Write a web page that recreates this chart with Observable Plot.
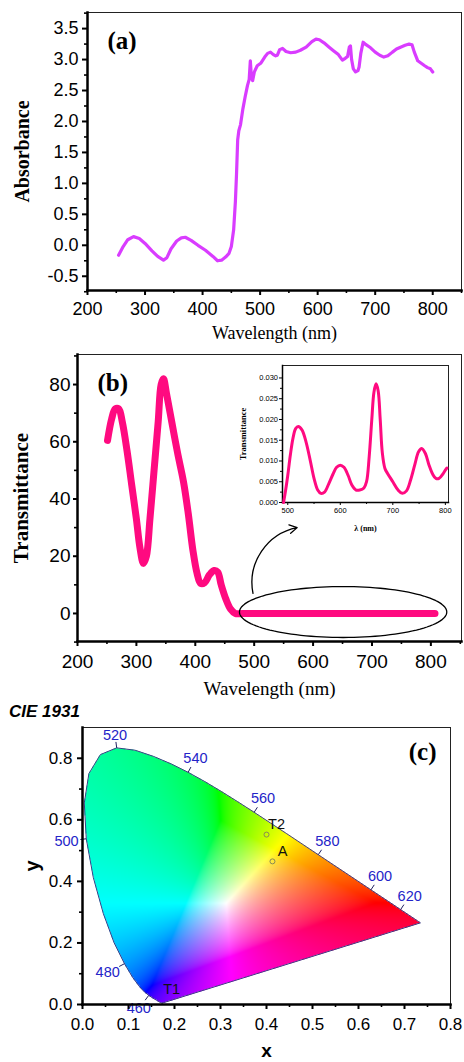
<!DOCTYPE html>
<html><head><meta charset="utf-8">
<script src="https://cdn.jsdelivr.net/npm/d3@7"></script>
<script src="https://cdn.jsdelivr.net/npm/@observablehq/plot@0.6"></script>
<style>
body{margin:0;background:#fff;}
#wrap{position:relative;width:464px;height:1062px;overflow:hidden;background:#fff;}
#wrap svg{position:absolute;overflow:visible;background:transparent;}
.cie{position:absolute;left:9px;top:702px;font:italic bold 17px "Liberation Sans",Arial,sans-serif;color:#000;}
</style></head><body><div id="wrap"><div class="cie">CIE 1931</div></div>
<script>
// ---------- Panel (a): absorbance ----------
const absWl = [254,262,270,280,290,300,312,322,332,338,345,355,363,370,380,392,405,418,426,433,440,446,450,454,457,459,461,463,466,470,474,478,481,483,485,487,490,495,501,508,513,518,523,527,530,534,539,545,553,562,570,580,590,597,603,611,620,628,636,643,648,652,655,657,659,662,666,670,672,675,679,684,692,700,708,715,722,730,737,744,752,759,764,768,774,780,786,791,796,800];
const absVal = [-0.16,-0.02,0.09,0.14,0.11,0.03,-0.09,-0.18,-0.24,-0.2,-0.06,0.07,0.12,0.13,0.08,0.0,-0.08,-0.18,-0.25,-0.24,-0.19,-0.13,-0.02,0.25,0.7,1.15,1.7,1.85,1.95,2.2,2.4,2.58,2.68,2.98,2.7,2.66,2.8,2.9,2.94,3.04,3.1,3.12,3.08,3.06,3.07,3.16,3.18,3.13,3.11,3.12,3.15,3.2,3.29,3.33,3.32,3.27,3.2,3.14,3.08,2.99,3.02,3.05,3.2,3.22,3.0,2.85,2.8,2.82,2.88,3.1,3.28,3.24,3.19,3.12,3.07,3.04,3.06,3.12,3.17,3.2,3.23,3.25,3.24,3.12,2.98,2.94,2.9,2.87,2.85,2.8];
const absYTicks = [-0.5,0,0.5,1,1.5,2,2.5,3,3.5];
const absYMinor = [-0.75,-0.25,0.25,0.75,1.25,1.75,2.25,2.75,3.25,3.75];
const wlTicks = [200,300,400,500,600,700,800];
const wlMinor = [250,350,450,550,650,750,850];

// ---------- Panel (b): transmittance ----------
const trWl = [251,258,264,270,276,284,292,300,306,312,317,323,330,337,342,346,351,360,370,380,388,396,403,409,416,424,432,438,444,452,460,468,480,600,700,807];
const trVal = [60.5,68,71.5,71.5,67,57,45,33,23,17.5,20,33,50,67,80,82,77,67,56,46,35,22,14,10.5,10.8,13.5,15,14.5,10,5,1.5,0,0,0,0,0];
const trYTicks = [0,20,40,60,80];
const trYMinor = [-10,10,30,50,70,90];

// inset
const inWl = [492,496,500,505,510,515,520,527,535,543,550,557,563,570,578,586,593,600,607,615,622,630,637,645,650,655,660,664,668,672,676,680,685,690,700,710,718,726,734,742,749,755,762,769,776,782,788,795,800,803];
const inVal = [0,0.003,0.0065,0.0115,0.0155,0.0178,0.0183,0.0175,0.0145,0.01,0.0058,0.003,0.0022,0.0025,0.0045,0.0068,0.0085,0.009,0.0085,0.0065,0.0042,0.003,0.003,0.0035,0.005,0.011,0.02,0.0265,0.0286,0.027,0.02,0.012,0.0082,0.007,0.005,0.003,0.0022,0.0028,0.0055,0.0092,0.0122,0.013,0.0118,0.009,0.0068,0.0058,0.0058,0.0068,0.0078,0.0083];
const inYTicks = [0,0.005,0.01,0.015,0.02,0.025,0.03];
const inYMinor = [0.0025,0.0075,0.0125,0.0175,0.0225,0.0275];
const inXTicks = [500,600,700,800];
const inXMinor = [550,650,750];

// annotations for (b)
const ellipseSpec = {cx: 651, cy: 0.5, rx: 176, ry: 8.9};
const arrowSpec = [{x1: 498, y1: 7, x2: 573, y2: 30}];

// ---------- Panel (c): CIE 1931 ----------
const cieWl = [380,385,390,395,400,405,410,415,420,425,430,435,440,445,450,455,460,465,470,475,480,485,490,495,500,505,510,515,520,525,530,535,540,545,550,555,560,565,570,575,580,585,590,595,600,605,610,615,620,625,630,635,640,645,650,655,660,665,670,675,680,685,690,695,700];
const cieX = [0.1741,0.1740,0.1738,0.1736,0.1733,0.1730,0.1726,0.1721,0.1714,0.1703,0.1689,0.1669,0.1644,0.1611,0.1566,0.1510,0.1440,0.1355,0.1241,0.1096,0.0913,0.0687,0.0454,0.0235,0.0082,0.0039,0.0139,0.0389,0.0743,0.1142,0.1547,0.1929,0.2296,0.2658,0.3016,0.3373,0.3731,0.4087,0.4441,0.4788,0.5125,0.5448,0.5752,0.6029,0.6270,0.6482,0.6658,0.6801,0.6915,0.7006,0.7079,0.7140,0.7190,0.7230,0.7260,0.7283,0.7300,0.7311,0.7320,0.7327,0.7334,0.7340,0.7344,0.7346,0.7347];
const cieY = [0.0050,0.0050,0.0049,0.0049,0.0048,0.0048,0.0048,0.0048,0.0051,0.0058,0.0069,0.0086,0.0109,0.0138,0.0177,0.0227,0.0297,0.0399,0.0578,0.0868,0.1327,0.2007,0.2950,0.4127,0.5384,0.6548,0.7502,0.8120,0.8338,0.8262,0.8059,0.7816,0.7543,0.7243,0.6923,0.6589,0.6245,0.5896,0.5547,0.5202,0.4866,0.4544,0.4242,0.3965,0.3725,0.3514,0.3340,0.3197,0.3083,0.2993,0.2920,0.2859,0.2809,0.2770,0.2740,0.2717,0.2700,0.2689,0.2680,0.2673,0.2666,0.2660,0.2656,0.2654,0.2653];
const cieLabelWl = [460,480,500,520,540,560,580,600,620];
const ptName = ["T1","T2","A"];
const ptX = [0.172,0.400,0.413];
const ptY = [0.016,0.552,0.465];
const cieXTicks = [0,0.1,0.2,0.3,0.4,0.5,0.6,0.7,0.8];
const cieXMinor = [0.05,0.15,0.25,0.35,0.45,0.55,0.65,0.75];
const cieYTicks = [0,0.2,0.4,0.6,0.8];
const cieYMinor = [0.1,0.3,0.5,0.7];

// ---------- helpers ----------
const wrap = document.getElementById("wrap");
const sans = "Liberation Sans, Arial, sans-serif";
const serif = "Liberation Serif, Times New Roman, serif";
const pink = "#ff0a80";
function place(svg, left, top) { svg.style.left = left + "px"; svg.style.top = top + "px"; wrap.appendChild(svg); }
const blank = () => "";

// ---------- draw (a) ----------
const absData = absWl.map((w, i) => ({w, a: absVal[i]}));
place(Plot.plot({
  width: 464, height: 345, marginTop: 12, marginBottom: 55, marginLeft: 87, marginRight: 3,
  x: {domain: [200, 850]}, y: {domain: [-0.73, 3.76]},
  style: {fontFamily: sans, background: "transparent"},
  marks: [
    Plot.frame({stroke: "#222", strokeWidth: 1}),
    Plot.frame({anchor: "left", stroke: "#000", strokeWidth: 2.5}),
    Plot.frame({anchor: "bottom", stroke: "#000", strokeWidth: 2.5}),
    Plot.axisY({ticks: absYTicks, tickFormat: d => d.toFixed(1), tickSize: 5, tickPadding: 4, fontSize: 18, strokeWidth: 2, label: null}),
    Plot.axisY({ticks: absYMinor, tickFormat: blank, tickSize: 3, strokeWidth: 1.6, label: null}),
    Plot.axisX({ticks: wlTicks, tickSize: 5, tickPadding: 7, fontSize: 18, strokeWidth: 2, label: null}),
    Plot.axisX({ticks: wlMinor, tickFormat: blank, tickSize: 3, strokeWidth: 1.6, label: null}),
    Plot.line(absData, {x: "w", y: "a", stroke: "#d93cff", strokeWidth: 3.2, strokeLinejoin: "round"}),
    Plot.text(["(a)"], {text: d => d, frameAnchor: "top-left", dx: 20, dy: 28, textAnchor: "start", lineAnchor: "middle", fontSize: 25, fontWeight: "bold", fontFamily: serif}),
    Plot.text(["Absorbance"], {text: d => d, frameAnchor: "left", dx: -65, rotate: -90, textAnchor: "middle", lineAnchor: "middle", fontSize: 20, fontWeight: "bold", fontFamily: serif}),
    Plot.text(["Wavelength (nm)"], {text: d => d, frameAnchor: "bottom", dy: 43, textAnchor: "middle", lineAnchor: "middle", fontSize: 18, fontFamily: serif})
  ]
}), 0, 0);

// ---------- draw (b) ----------
const trData = trWl.map((w, i) => ({w, t: trVal[i]}));
const ellipsePts = d3.range(0, 361, 3).map(a => ({
  x: ellipseSpec.cx + ellipseSpec.rx * Math.cos(a * Math.PI / 180),
  y: ellipseSpec.cy + ellipseSpec.ry * Math.sin(a * Math.PI / 180)
}));
place(Plot.plot({
  width: 464, height: 355, marginTop: 9, marginBottom: 59, marginLeft: 77, marginRight: 3,
  x: {domain: [200, 852]}, y: {domain: [-9.8, 90.5]},
  style: {fontFamily: sans, background: "transparent"},
  marks: [
    Plot.frame({stroke: "#222", strokeWidth: 1}),
    Plot.frame({anchor: "left", stroke: "#000", strokeWidth: 2.5}),
    Plot.frame({anchor: "bottom", stroke: "#000", strokeWidth: 2.5}),
    Plot.axisY({ticks: trYTicks, tickSize: 4, tickPadding: 3, fontSize: 19, strokeWidth: 2, label: null}),
    Plot.axisY({ticks: trYMinor, tickFormat: blank, tickSize: 3, strokeWidth: 1.6, label: null}),
    Plot.axisX({ticks: wlTicks, tickSize: 5, tickPadding: 8, fontSize: 19, strokeWidth: 2, label: null}),
    Plot.axisX({ticks: wlMinor, tickFormat: blank, tickSize: 3, strokeWidth: 1.6, label: null}),
    Plot.line(trData, {x: "w", y: "t", stroke: pink, strokeWidth: 7, curve: "catmull-rom", strokeLinejoin: "round"}),
    Plot.line(ellipsePts, {x: "x", y: "y", stroke: "#000", strokeWidth: 1.3}),
    Plot.arrow(arrowSpec, {x1: "x1", y1: "y1", x2: "x2", y2: "y2", bend: 45, headLength: 10, strokeWidth: 1.3, stroke: "#000"}),
    Plot.text(["(b)"], {text: d => d, frameAnchor: "top-left", dx: 20, dy: 28, textAnchor: "start", lineAnchor: "middle", fontSize: 25, fontWeight: "bold", fontFamily: serif}),
    Plot.text(["Transmittance"], {text: d => d, frameAnchor: "left", dx: -56, rotate: -90, textAnchor: "middle", lineAnchor: "middle", fontSize: 21, fontWeight: "bold", fontFamily: serif}),
    Plot.text(["Wavelength (nm)"], {text: d => d, frameAnchor: "bottom", dy: 47, textAnchor: "middle", lineAnchor: "middle", fontSize: 19, fontFamily: serif})
  ]
}), 0, 345);

// inset
const inData = inWl.map((w, i) => ({w, t: inVal[i]}));
place(Plot.plot({
  width: 230, height: 185, marginTop: 10, marginBottom: 38, marginLeft: 52, marginRight: 12,
  x: {domain: [490, 806]}, y: {domain: [0, 0.033]},
  style: {fontFamily: sans, background: "transparent"},
  marks: [
    Plot.frame({stroke: "#222", strokeWidth: 1}),
    Plot.frame({anchor: "left", stroke: "#000", strokeWidth: 1.5}),
    Plot.frame({anchor: "bottom", stroke: "#000", strokeWidth: 1.5}),
    Plot.axisY({ticks: inYTicks, tickFormat: d3.format(".3f"), tickSize: 3, tickPadding: 1.5, fontSize: 7.5, strokeWidth: 1, label: null}),
    Plot.axisY({ticks: inYMinor, tickFormat: blank, tickSize: 2, strokeWidth: 1, label: null}),
    Plot.axisX({ticks: inXTicks, tickSize: 3, tickPadding: 2, fontSize: 7.5, strokeWidth: 1, label: null}),
    Plot.axisX({ticks: inXMinor, tickFormat: blank, tickSize: 2, strokeWidth: 1, label: null}),
    Plot.line(inData, {x: "w", y: "t", stroke: pink, strokeWidth: 3, curve: "catmull-rom"}),
    Plot.text(["Transmittance"], {text: d => d, frameAnchor: "left", dx: -39, rotate: -90, textAnchor: "middle", lineAnchor: "middle", fontSize: 8.5, fontWeight: "bold", fontFamily: serif}),
    Plot.text(["λ (nm)"], {text: d => d, frameAnchor: "bottom", dy: 26, textAnchor: "middle", lineAnchor: "middle", fontSize: 8, fontWeight: "bold", fontFamily: serif})
  ]
}), 230, 355);

// ---------- draw (c) ----------
const cW = 464, cH = 362, cML = 82, cMR = 14, cMT = 27, cMB = 58;
const kx = (cW - cML - cMR) / 0.8, ky = (cH - cMT - cMB) / 0.9;
const poly = cieX.map((x, i) => [x, cieY[i]]);
const gam = v => v <= 0.0031308 ? 12.92 * v : 1.055 * Math.pow(v, 1 / 2.4) - 0.055;
function xyColor(x, y) {
  if (y <= 0 || !d3.polygonContains(poly, [x, y])) return null;
  const X = x / y, Z = (1 - x - y) / y;
  let r = 3.2406 * X - 1.5372 - 0.4986 * Z;
  let g = -0.9689 * X + 1.8758 + 0.0415 * Z;
  let b = 0.0557 * X - 0.2040 + 1.0570 * Z;
  const m = Math.min(r, g, b, 0); r -= m; g -= m; b -= m;
  const M = Math.max(r, g, b); r /= M; g /= M; b /= M;
  const s = 1.35;
  r = Math.pow(r, s); g = Math.pow(g, s); b = Math.pow(b, s);
  return d3.rgb(255 * gam(r), 255 * gam(g), 255 * gam(b)).formatHex();
}
const locus = cieWl.map((w, i) => ({w, x: cieX[i], y: cieY[i]}));
const locusClosed = locus.concat([locus[0]]);
const labelRows = cieLabelWl.map(w => {
  const i = cieWl.indexOf(w);
  const tx = (cieX[i + 1] - cieX[i - 1]) * kx, ty = (cieY[i + 1] - cieY[i - 1]) * ky;
  const L = Math.hypot(tx, ty);
  const nx = -ty / L, ny = tx / L;
  const d = 12 + 8 * Math.abs(nx);
  return {
    w: String(w), x0: cieX[i], y0: cieY[i],
    x1: cieX[i] + nx * 6 / kx, y1: cieY[i] + ny * 6 / ky,
    lx: cieX[i] + nx * d / kx, ly: cieY[i] + ny * d / ky
  };
});
const pts = ptName.map((n, i) => ({n, x: ptX[i], y: ptY[i]}));
place(Plot.plot({
  width: cW, height: cH, marginTop: cMT, marginBottom: cMB, marginLeft: cML, marginRight: cMR,
  x: {domain: [0, 0.8]}, y: {domain: [0, 0.9]},
  color: {type: "identity"},
  style: {fontFamily: sans, background: "transparent"},
  marks: [
    Plot.raster({x1: 0, x2: 0.8, y1: 0, y2: 0.9, fill: xyColor, pixelSize: 1}),
    Plot.line(locusClosed, {x: "x", y: "y", stroke: "#2b2b7a", strokeWidth: 0.9}),
    Plot.link(labelRows, {x1: "x0", y1: "y0", x2: "x1", y2: "y1", stroke: "#202060", strokeWidth: 1}),
    Plot.text(labelRows, {x: "lx", y: "ly", text: "w", fill: "#2424c8", fontSize: 14.5, textAnchor: "middle", lineAnchor: "middle"}),
    Plot.dot(pts.filter(d => d.n !== "T1"), {x: "x", y: "y", r: 2.5, stroke: "#8a8a55", strokeWidth: 1, fill: "none"}),
    Plot.text(pts, {x: "x", y: "y", text: "n", dx: 10, dy: -10, fill: "#111", fontSize: 14.5, textAnchor: "middle", lineAnchor: "middle"}),
    Plot.frame({stroke: "#222", strokeWidth: 1}),
    Plot.frame({anchor: "left", stroke: "#000", strokeWidth: 2.5}),
    Plot.frame({anchor: "bottom", stroke: "#000", strokeWidth: 2.5}),
    Plot.axisY({ticks: cieYTicks, tickFormat: d => d.toFixed(1), tickSize: 5, tickPadding: 5, fontSize: 17, strokeWidth: 2, label: null}),
    Plot.axisY({ticks: cieYMinor, tickFormat: blank, tickSize: 3, strokeWidth: 1.6, label: null}),
    Plot.axisX({ticks: cieXTicks, tickFormat: d => d.toFixed(1), tickSize: 5, tickPadding: 8, fontSize: 17, strokeWidth: 2, label: null}),
    Plot.axisX({ticks: cieXMinor, tickFormat: blank, tickSize: 3, strokeWidth: 1.6, label: null}),
    Plot.text(["(c)"], {text: d => d, frameAnchor: "top-right", dx: -14, dy: 24, textAnchor: "end", lineAnchor: "middle", fontSize: 25, fontWeight: "bold", fontFamily: serif}),
    Plot.text(["y"], {text: d => d, frameAnchor: "left", dx: -50, rotate: -90, textAnchor: "middle", lineAnchor: "middle", fontSize: 20, fontWeight: "bold", fontFamily: sans}),
    Plot.text(["x"], {text: d => d, frameAnchor: "bottom", dy: 46, textAnchor: "middle", lineAnchor: "middle", fontSize: 19, fontWeight: "bold", fontFamily: sans})
  ]
}), 0, 700);
</script></body></html>
